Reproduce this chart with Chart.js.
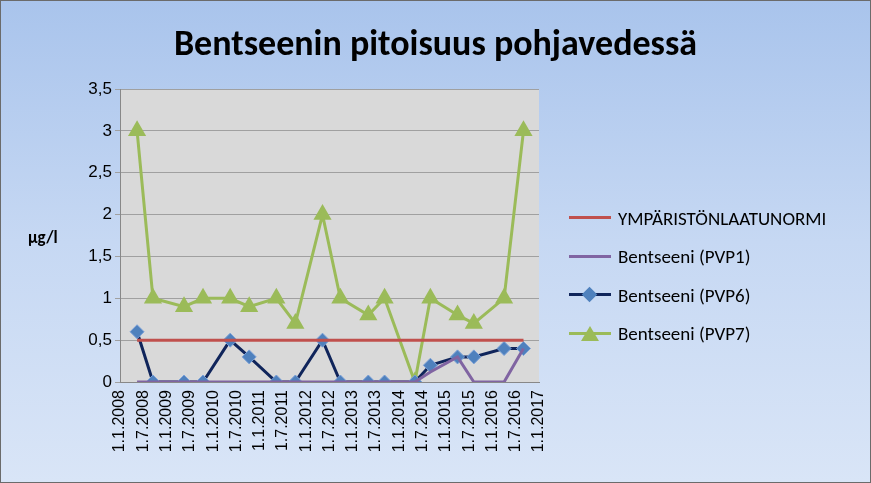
<!DOCTYPE html>
<html><head><meta charset="utf-8">
<script src="https://cdn.jsdelivr.net/npm/chart.js@4/dist/chart.umd.min.js"></script>
<style>
html,body{margin:0;padding:0;}
#wrap{position:relative;width:869px;height:481px;border:1px solid #6b6b6b;background:linear-gradient(180deg,#a9c4ec 0%,#c6d8f3 50%,#d9e5f7 100%);font-family:Calibri,Carlito,"Liberation Sans",sans-serif;}
canvas{position:absolute;left:0;top:0;}
#title{position:absolute;left:0;width:869px;top:20px;text-align:center;font-weight:bold;font-size:36px;}
#ylab{position:absolute;left:27px;top:226px;font-weight:bold;font-size:17px;}
#legend{position:absolute;left:568px;top:198px;font-size:19px;}
.li{display:flex;align-items:center;height:38.5px;}
.sw{width:42px;height:18px;margin-right:7px;}
</style></head><body>
<div id="wrap"><canvas id="c" width="869" height="481"></canvas>
<div id="title">Bentseenin pitoisuus pohjavedessä</div>
<div id="ylab">µg/l</div>
<div id="legend"></div></div>
<script>
const tickLabels=["1.1.2008","1.7.2008","1.1.2009","1.7.2009","1.1.2010","1.7.2010","1.1.2011","1.7.2011","1.1.2012","1.7.2012","1.1.2013","1.7.2013","1.1.2014","1.7.2014","1.1.2015","1.7.2015","1.1.2016","1.7.2016","1.1.2017"];
const sampleMonths=[4.4,8.5,16.5,21.4,28.4,33.3,40.3,45.2,52.2,56.8,64,68.2,76,80,87,91.2,99,104];
const normi=[0.5,0.5,0.5,0.5,0.5,0.5,0.5,0.5,0.5,0.5,0.5,0.5,0.5,0.5,0.5,0.5,0.5,0.5];
const pvp1=[0,0,0,0,0,0,0,0,0,0,0,0,0,0.12,0.3,0,0,0.4];
const pvp6=[0.6,0,0,0,0.5,0.3,0,0,0.5,0,0,0,0,0.2,0.3,0.3,0.4,0.4];
const pvp7=[3,1,0.9,1,1,0.9,1,0.7,2,1,0.8,1,0,1,0.8,0.7,1,3];
const names=["YMPÄRISTÖNLAATUNORMI","Bentseeni (PVP1)","Bentseeni (PVP6)","Bentseeni (PVP7)"];
const xy=a=>a.map((v,i)=>({x:sampleMonths[i],y:v}));
const ds=[
 {label:names[0],data:xy(normi),borderColor:'#c0504d',borderWidth:3,pointRadius:0},
 {label:names[1],data:xy(pvp1),borderColor:'#8064a2',borderWidth:3,pointRadius:0},
 {label:names[2],data:xy(pvp6),borderColor:'#10255b',borderWidth:3,pointStyle:'rectRot',pointRadius:7,pointBackgroundColor:'#4f81bd',pointBorderColor:'#7aa0d8',pointBorderWidth:1},
 {label:names[3],data:xy(pvp7),borderColor:'#9bbb59',borderWidth:3,pointStyle:'triangle',pointRadius:7.5,pointBackgroundColor:'#9bbb59',pointBorderColor:'#9bbb59'}
];
const plotBg={id:'bg',beforeDraw(c){const a=c.chartArea;c.ctx.save();c.ctx.fillStyle='#d9d9d9';c.ctx.fillRect(a.left,a.top,a.right-a.left,a.bottom-a.top);c.ctx.restore();}};
new Chart(document.getElementById('c'),{type:'line',data:{datasets:ds},plugins:[plotBg],
options:{responsive:false,animation:false,layout:{padding:{top:88,right:331,left:0,bottom:0}},
plugins:{legend:{display:false},tooltip:{enabled:false},title:{display:false}},
scales:{
 x:{type:'linear',min:0,max:108,afterFit(s){s.height=100;},
  afterBuildTicks(s){s.ticks=tickLabels.map((t,i)=>({value:i*6}));},
  ticks:{autoSkip:false,minRotation:90,maxRotation:90,color:'#000',font:{size:16},callback:(v)=>tickLabels[Math.round(v/6)]},
  grid:{display:false,drawTicks:true,tickLength:5,color:'#888'},border:{color:'#888'}},
 y:{min:0,max:3.5,afterFit(s){s.width=119;},
  ticks:{stepSize:0.5,color:'#000',font:{size:17},callback:v=>String(v).replace('.',',')},
  grid:{color:'#a0a0a0',tickLength:5},border:{color:'#888'}}
}}});
const lg=document.getElementById('legend');
const cols=['#c0504d','#8064a2','#10255b','#9bbb59'];
const mk=['','','<div style="position:absolute;left:15px;top:3px;width:11px;height:11px;background:#4f81bd;transform:rotate(45deg)"></div>','<div style="position:absolute;left:12px;top:1px;width:0;height:0;border-left:9px solid transparent;border-right:9px solid transparent;border-bottom:15px solid #9bbb59"></div>'];
names.forEach((n,i)=>{lg.innerHTML+=`<div class="li"><div class="sw" style="position:relative"><div style="position:absolute;top:7px;left:0;width:42px;height:3px;background:${cols[i]}"></div>${mk[i]}</div><span>${n}</span></div>`;});
</script></body></html>
